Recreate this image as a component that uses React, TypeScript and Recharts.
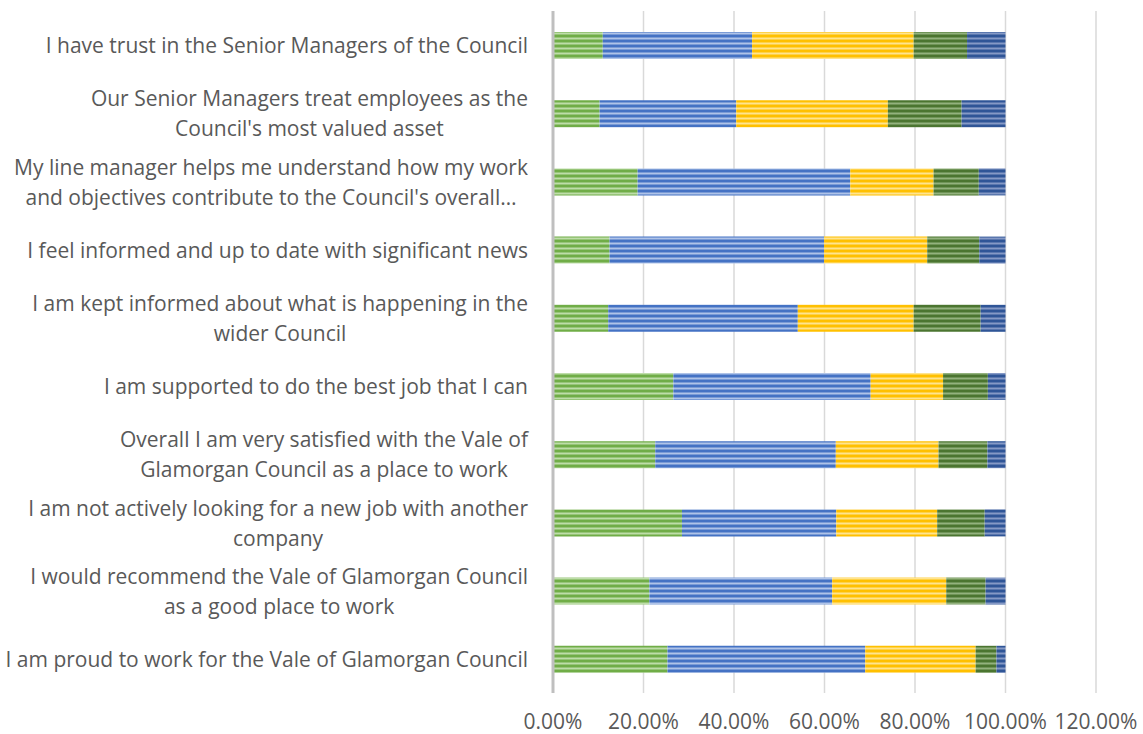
import React from 'react';
import { BarChart, Bar, XAxis, YAxis, CartesianGrid } from 'recharts';

const questions = [
  'I have trust in the Senior Managers of the Council',
  'Our Senior Managers treat employees as the\nCouncil\'s most valued asset',
  'My line manager helps me understand how my work\nand objectives contribute to the Council\'s overall…',
  'I feel informed and up to date with significant news',
  'I am kept informed about what is happening in the\nwider Council',
  'I am supported to do the best job that I can',
  'Overall I am very satisfied with the Vale of\nGlamorgan Council as a place to work',
  'I am not actively looking for a new job with another\ncompany',
  'I would recommend the Vale of Glamorgan Council\nas a good place to work',
  'I am proud to work for the Vale of Glamorgan Council',
];

const stronglyAgree = [0.11, 0.103, 0.187, 0.125, 0.122, 0.266, 0.226, 0.285, 0.213, 0.253];
const agree = [0.33, 0.302, 0.47, 0.474, 0.419, 0.436, 0.399, 0.341, 0.404, 0.437];
const neutral = [0.357, 0.335, 0.184, 0.228, 0.256, 0.16, 0.227, 0.223, 0.252, 0.244];
const disagree = [0.118, 0.163, 0.1, 0.115, 0.148, 0.099, 0.108, 0.105, 0.087, 0.046];
const stronglyDisagree = [0.085, 0.097, 0.059, 0.058, 0.055, 0.039, 0.04, 0.046, 0.044, 0.02];

const xTicks = [0, 0.2, 0.4, 0.6, 0.8, 1.0, 1.2];

const data = questions.map((q, i) => ({
  name: q,
  stronglyAgree: stronglyAgree[i],
  agree: agree[i],
  neutral: neutral[i],
  disagree: disagree[i],
  stronglyDisagree: stronglyDisagree[i],
}));

const series = [
  { key: 'stronglyAgree', base: '#70AD47', light: '#BEDDA9' },
  { key: 'agree', base: '#4472C4', light: '#AFC3E8' },
  { key: 'neutral', base: '#FFC000', light: '#FFE48F' },
  { key: 'disagree', base: '#4B7530', light: '#93B27E' },
  { key: 'stronglyDisagree', base: '#2F5597', light: '#8599C6' },
];

const FONT = '"Open Sans", sans-serif';
const FONT_SIZE = 21;
const TEXT = '#595959';

let ctx: CanvasRenderingContext2D | null = null;
const measure = (s: string) => {
  if (!ctx) ctx = document.createElement('canvas').getContext('2d');
  if (!ctx) return s.length * 10.5;
  ctx.font = `${FONT_SIZE}px "Open Sans"`;
  return ctx.measureText(s).width;
};

const QuestionTick = (props: any) => {
  const { x, y, payload } = props;
  const lines: string[] = String(payload.value).split('\n');
  const w = Math.max(...lines.map(measure));
  const cx = x - 25 - w / 2;
  const lh = 30;
  const y0 = y - ((lines.length - 1) * lh) / 2;
  return (
    <text
      textAnchor="middle"
      fill={TEXT}
      fontFamily={FONT}
      fontSize={FONT_SIZE}
      dominantBaseline="central"
    >
      {lines.map((l, i) => (
        <tspan key={i} x={cx} y={y0 + i * lh}>
          {l}
        </tspan>
      ))}
    </text>
  );
};

export default function App() {
  return (
    <div style={{ position: 'absolute', left: 0, top: 0, background: '#fff' }}>
      <BarChart
        width={1143}
        height={734}
        data={data}
        layout="vertical"
        margin={{ top: 11, right: 47, bottom: 0, left: 0 }}
        barSize={27}
      >
        <defs>
          {series.map((s) => (
            <pattern
              key={s.key}
              id={`stripe-${s.key}`}
              patternUnits="userSpaceOnUse"
              width={10}
              height={5}
            >
              <rect x={0} y={0} width={10} height={5} fill={s.base} />
              <rect x={0} y={2.5} width={10} height={2} fill={s.light} />
            </pattern>
          ))}
        </defs>
        <CartesianGrid horizontal={false} stroke="#D9D9D9" strokeWidth={1.5} />
        <XAxis
          type="number"
          domain={[0, 1.2]}
          ticks={xTicks}
          tickFormatter={(v: number) => `${(v * 100).toFixed(2)}%`}
          axisLine={false}
          tickLine={false}
          height={41}
          tick={{ fill: TEXT, fontSize: FONT_SIZE, fontFamily: FONT, dy: 13 }}
          interval={0}
        />
        <YAxis
          type="category"
          dataKey="name"
          width={553}
          axisLine={{ stroke: '#BFBFBF', strokeWidth: 3 }}
          tickLine={false}
          tickSize={0}
          tickMargin={0}
          tick={<QuestionTick />}
          interval={0}
        />
        {series.map((s) => (
          <Bar
            key={s.key}
            dataKey={s.key}
            stackId="a"
            fill={`url(#stripe-${s.key})`}
            isAnimationActive={false}
          />
        ))}
      </BarChart>
    </div>
  );
}
